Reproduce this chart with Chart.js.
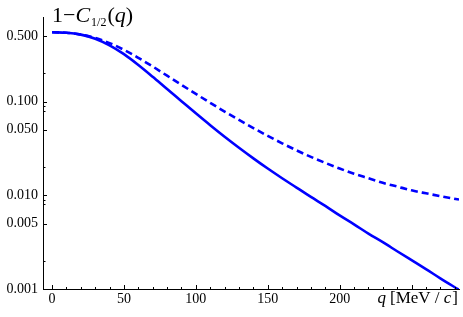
<!DOCTYPE html>
<html>
<head>
<meta charset="utf-8">
<script src="https://cdn.jsdelivr.net/npm/chart.js@4.4.1/dist/chart.umd.min.js"></script>
<style>
  body { margin: 0; background: #fff; }
  #wrap { position: relative; width: 463px; height: 317px; }
</style>
</head>
<body>
<div id="wrap"><canvas id="chart"></canvas></div>
<script>
// momentum q [MeV/c]
const qValues = [0, 10, 20, 30, 40, 50, 60, 70, 80, 90, 100, 110, 120, 130, 140, 150,
  160, 170, 180, 190, 200, 210, 220, 230, 240, 250, 260, 270, 283];

// 1 - C_{1/2}(q), solid curve
const solidValues = [0.55, 0.544, 0.519, 0.469, 0.399, 0.321, 0.246, 0.184, 0.136, 0.101,
  0.075, 0.056, 0.0422, 0.0322, 0.0248, 0.0193, 0.0152, 0.0121, 0.0096, 0.0077, 0.0061,
  0.0049, 0.0039, 0.00316, 0.00253, 0.00203, 0.00163, 0.0013, 0.00098];

// 1 - C_{1/2}(q), dashed curve
const dashedValues = [0.55, 0.544, 0.519, 0.478, 0.421, 0.357, 0.293, 0.237, 0.189, 0.151,
  0.121, 0.097, 0.0784, 0.0637, 0.0522, 0.0431, 0.0359, 0.0302, 0.0257, 0.0222, 0.0193,
  0.017, 0.0152, 0.0136, 0.0124, 0.0113, 0.0105, 0.0098, 0.009];

// tick values
const xMajorTicks = [0, 50, 100, 150, 200, 250];
const xLabelled = [0, 50, 100, 150, 200];
const xMinorTicks = [10, 20, 30, 40, 60, 70, 80, 90, 110, 120, 130, 140, 160, 170, 180, 190,
  210, 220, 230, 240, 260, 270, 280];
const yMajorTicks = [0.001, 0.005, 0.01, 0.05, 0.1, 0.5];
const yMinorTicks = [0.002, 0.008, 0.009, 0.02, 0.08, 0.09, 0.2];

const BLUE = '#0000ff';
const SERIF = '"Liberation Serif", "DejaVu Serif", serif';

Chart.defaults.font.family = SERIF;
Chart.defaults.color = '#000';

// ticks pointing into the plot, Mathematica style
const inwardTicks = {
  id: 'inwardTicks',
  afterDatasetsDraw(chart) {
    const { ctx, chartArea: a, scales: { x, y } } = chart;
    ctx.save();
    ctx.strokeStyle = '#000';
    ctx.lineWidth = 1;
    const seg = (x1, y1, x2, y2) => {
      ctx.beginPath();
      ctx.moveTo(x1, y1);
      ctx.lineTo(x2, y2);
      ctx.stroke();
    };
    xMajorTicks.forEach(v => {
      const px = Math.round(x.getPixelForValue(v)) + 0.5;
      seg(px, a.bottom, px, a.bottom - 4);
    });
    xMinorTicks.forEach(v => {
      const px = Math.round(x.getPixelForValue(v)) + 0.5;
      seg(px, a.bottom, px, a.bottom - 2);
    });
    yMajorTicks.forEach(v => {
      const py = Math.round(y.getPixelForValue(v)) + 0.5;
      seg(a.left, py, a.left + 4, py);
    });
    yMinorTicks.forEach(v => {
      const py = Math.round(y.getPixelForValue(v)) + 0.5;
      seg(a.left, py, a.left + 2.5, py);
    });
    ctx.restore();
  }
};

// draw a run of text pieces with different styles, returns end x
function drawPieces(ctx, x, baseline, pieces, measureOnly) {
  pieces.forEach(p => {
    ctx.font = p.font;
    if (!measureOnly) ctx.fillText(p.text, x, baseline + (p.dy || 0));
    x += ctx.measureText(p.text).width + (p.gap || 0);
  });
  return x;
}

const titlePieces = [
  { text: '1\u2212', font: '22px ' + SERIF },
  { text: 'C', font: 'italic 22px ' + SERIF, gap: 1 },
  { text: '1/2', font: '12px ' + SERIF, dy: 4, gap: 1 },
  { text: '(', font: '22px ' + SERIF },
  { text: 'q', font: 'italic 22px ' + SERIF },
  { text: ')', font: '22px ' + SERIF }
];

const xLabelPieces = [
  { text: 'q', font: 'italic 17px ' + SERIF, gap: 4 },
  { text: '[MeV / ', font: '17px ' + SERIF },
  { text: 'c', font: 'italic 17px ' + SERIF, gap: 1 },
  { text: ']', font: '17px ' + SERIF }
];

const axisLabels = {
  id: 'axisLabels',
  afterDraw(chart) {
    const { ctx, chartArea: a } = chart;
    ctx.save();
    ctx.fillStyle = '#000';
    ctx.textBaseline = 'alphabetic';
    ctx.textAlign = 'left';
    drawPieces(ctx, a.left + 9, a.top + 5, titlePieces);
    const w = drawPieces(ctx, 0, 0, xLabelPieces, true);
    drawPieces(ctx, a.right - 1 - w, a.bottom + 14, xLabelPieces);
    ctx.restore();
  }
};

function toPoints(values) {
  return values.map((v, i) => ({ x: qValues[i], y: v }));
}

new Chart(document.getElementById('chart'), {
  type: 'line',
  data: {
    datasets: [{
      label: 'solid',
      data: toPoints(solidValues),
      borderColor: BLUE,
      borderWidth: 2.6,
      pointRadius: 0,
      cubicInterpolationMode: 'monotone',
      fill: false
    }, {
      label: 'dashed',
      data: toPoints(dashedValues),
      borderColor: BLUE,
      borderWidth: 2.6,
      borderDash: [7, 4],
      pointRadius: 0,
      cubicInterpolationMode: 'monotone',
      fill: false
    }]
  },
  options: {
    responsive: true,
    maintainAspectRatio: false,
    animation: false,
    layout: { padding: { top: 17, right: 4, left: 0, bottom: 0 } },
    plugins: {
      legend: { display: false },
      tooltip: { enabled: false }
    },
    scales: {
      x: {
        type: 'linear',
        min: -6.3,
        max: 283,
        grid: { display: false, drawTicks: false },
        border: { display: true, color: '#000', width: 1 },
        afterBuildTicks: scale => {
          scale.ticks = xMajorTicks.map(v => ({ value: v }));
        },
        afterFit: scale => { scale.height = 28; },
        ticks: {
          autoSkip: false,
          maxRotation: 0,
          padding: 2,
          font: { size: 14 },
          callback: v => (xLabelled.includes(v) ? String(v) : '')
        }
      },
      y: {
        type: 'logarithmic',
        min: 0.001,
        max: 0.8,
        grid: { display: false, drawTicks: false },
        border: { display: true, color: '#000', width: 1 },
        afterBuildTicks: scale => {
          scale.ticks = yMajorTicks.map(v => ({ value: v }));
        },
        afterFit: scale => { scale.width = 43; },
        ticks: {
          padding: 5,
          font: { size: 14 },
          callback: v => Number(v).toFixed(3)
        }
      }
    }
  },
  plugins: [inwardTicks, axisLabels]
});
</script>
</body>
</html>
